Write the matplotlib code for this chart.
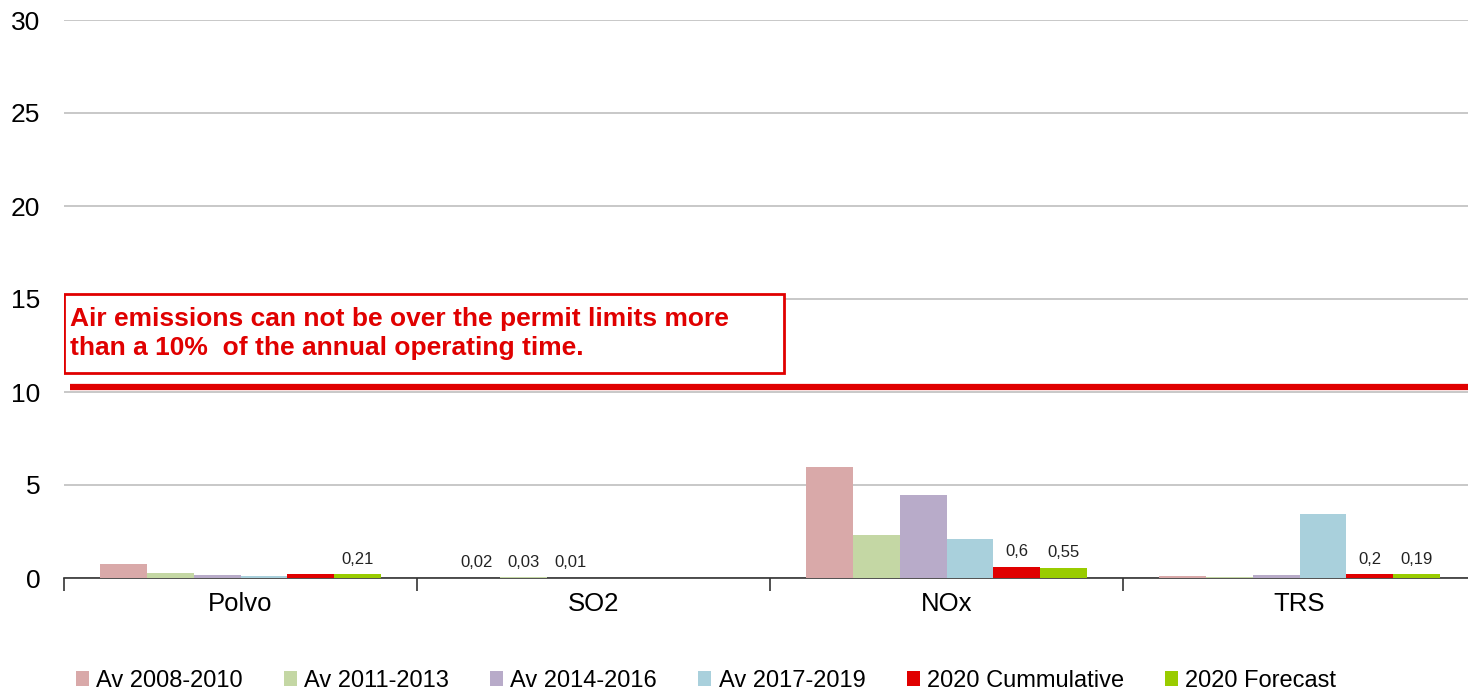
import matplotlib.pyplot as plt
import numpy as np

plt.rcParams['font.family'] = ['Liberation Sans', 'DejaVu Sans']

# categories and series
categories = ['Polvo', 'SO2', 'NOx', 'TRS']
series_names = ['Av 2008-2010', 'Av 2011-2013', 'Av 2014-2016', 'Av 2017-2019',
                '2020 Cummulative', '2020 Forecast']
av_2008_2010 = [0.74, 0.02, 5.97, 0.10]
av_2011_2013 = [0.27, 0.03, 2.33, 0.05]
av_2014_2016 = [0.16, 0.01, 4.46, 0.16]
av_2017_2019 = [0.10, 0.0, 2.10, 3.42]
cum_2020 = [0.22, 0.0, 0.60, 0.20]
forecast_2020 = [0.21, 0.0, 0.55, 0.19]

# which bars carry a value label (series index, category index, text)
value_labels = [(5, 0, '0,21'), (0, 1, '0,02'), (1, 1, '0,03'), (2, 1, '0,01'),
                (4, 2, '0,6'), (5, 2, '0,55'), (4, 3, '0,2'), (5, 3, '0,19')]

permit_limit = 10.27
note = 'Air emissions can not be over the permit limits more\nthan a 10%  of the annual operating time.'

colors = ['#D9A9A9', '#C4D7A4', '#B8ABC9', '#A9D0DC', '#E00000', '#99CC00']
all_series = [av_2008_2010, av_2011_2013, av_2014_2016, av_2017_2019, cum_2020, forecast_2020]

fig = plt.figure(figsize=(14.68, 6.95), dpi=100)
ax = fig.add_axes([64 / 1468, 117 / 695, 1412 / 1468, 558 / 695])

x = np.arange(len(categories))
width = 0.133
for i, (vals, c, name) in enumerate(zip(all_series, colors, series_names)):
    pos = x + (i - 2.5) * width
    ax.bar(pos, vals, width, color=c, label=name, zorder=3)

for si, ci, txt in value_labels:
    pos = x[ci] + (si - 2.5) * width
    ax.text(pos, all_series[si][ci] + 0.4, txt, ha='center', va='bottom', fontsize=12, color='#222222')

# permit limit line
ax.plot([0.004, 1.0], [permit_limit, permit_limit], transform=ax.get_yaxis_transform(),
        color='#E00000', lw=4.5, solid_capstyle='butt', zorder=4, clip_on=False)

# note box
ax.text(0.0045, 14.55, note, transform=ax.get_yaxis_transform(), ha='left', va='top',
        fontsize=19, fontweight='bold', color='#E00000', linespacing=1.25, zorder=5)
rect = plt.Rectangle((0.0, 11.0), 0.51, 4.27, transform=ax.get_yaxis_transform(),
                     fill=True, facecolor='white', edgecolor='#E00000', lw=2, zorder=4)
ax.add_patch(rect)

ax.set_xlim(-0.5, len(categories) - 0.5)
ax.set_ylim(0, 30)
ax.set_yticks(range(0, 31, 5))
ax.yaxis.grid(True, color='#BFBFBF', lw=1.2, zorder=0)
ax.set_axisbelow(True)
ax.tick_params(axis='y', length=0, labelsize=19, pad=17)
ax.set_xticks(x)
ax.set_xticklabels(categories)
ax.tick_params(axis='x', which='major', length=0, labelsize=18.5, pad=10)
ax.set_xticks(np.arange(-0.5, len(categories)), minor=True)
ax.tick_params(axis='x', which='minor', length=9, width=1.2, color='#333333')
for s in ['left', 'right', 'top']:
    ax.spines[s].set_visible(False)
ax.spines['bottom'].set_color('#333333')
ax.spines['bottom'].set_linewidth(1.2)

fig.legend(loc='lower center', bbox_to_anchor=(0.481, -0.026), ncol=6, frameon=False,
           fontsize=17, handlelength=0.55, handleheight=0.55, handletextpad=0.3,
           columnspacing=1.75)

fig.savefig('out.png', dpi=100)
